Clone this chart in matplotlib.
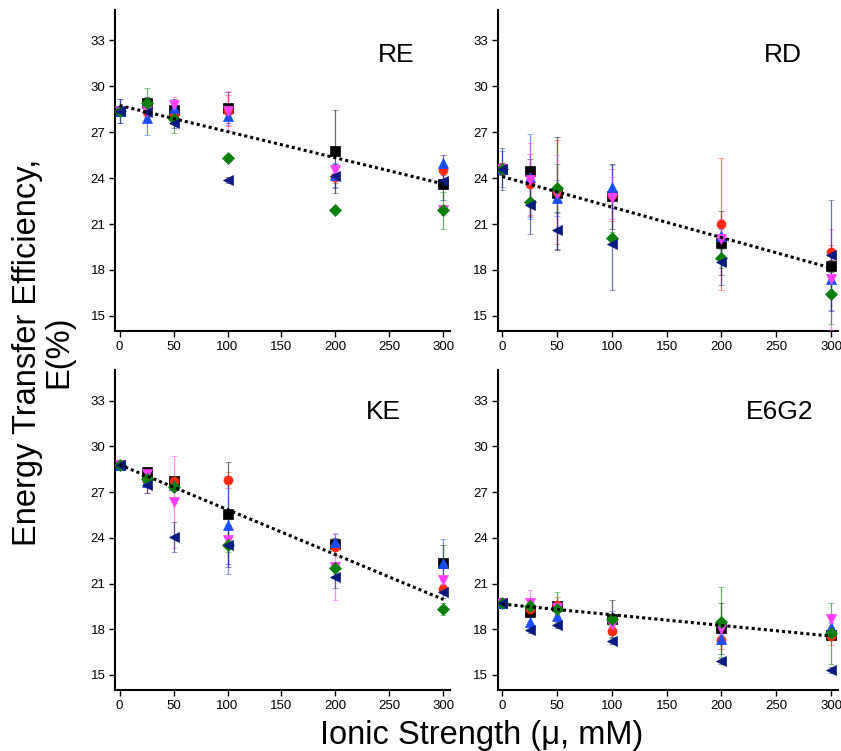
import numpy as np
import matplotlib
matplotlib.use("Agg")
import matplotlib.pyplot as plt

plt.rcParams['font.family'] = ['Liberation Sans', 'DejaVu Sans']

# ionic strength (mM)
ionic = [0, 25, 50, 100, 200, 300]

series_names = ['black', 'red', 'blue', 'magenta', 'green', 'navy']
series_colors = ['#000000', '#ff2a10', '#1a4dff', '#ff40ff', '#0a800a', '#0a1a80']
series_markers = ['s', 'o', '^', 'v', 'D', '<']

panel_labels = ['RE', 'RD', 'KE', 'E6G2']

# efficiency values, E(%)
re_vals = {
    'black':   [28.4, 28.9, 28.45, 28.6, 25.75, 23.6],
    'red':     [28.4, 28.3, 28.1, 28.4, 24.1, 24.5],
    'blue':    [28.4, 27.9, 28.6, 28.05, 24.2, 25.0],
    'magenta': [28.4, 28.4, 28.8, 28.4, 24.5, 21.9],
    'green':   [28.4, 28.9, 27.85, 25.3, 21.95, 21.9],
    'navy':    [28.4, 28.3, 27.6, 23.9, 24.15, 23.8],
}
re_err = {
    'black':   [0.3, 0.4, 0.75, 1.0, 2.7, 1.0],
    'red':     [0.3, 0.5, 0.4, 1.0, 0.4, 1.0],
    'blue':    [0.8, 1.1, 0.4, 0.6, 0.8, 0.5],
    'magenta': [0.3, 0.3, 0.5, 1.3, 0.4, 0.3],
    'green':   [0.2, 1.0, 0.9, 0.2, 0.2, 1.2],
    'navy':    [0.8, 0.3, 0.3, 0.2, 0.8, 0.4],
}

rd_vals = {
    'black':   [24.6, 24.45, 23.0, 22.8, 19.75, 18.25],
    'red':     [24.6, 23.6, 23.1, 22.9, 21.0, 19.15],
    'blue':    [24.6, 24.1, 22.7, 23.45, 20.25, 17.4],
    'magenta': [24.6, 23.9, 23.0, 22.7, 20.0, 17.4],
    'green':   [24.6, 22.45, 23.35, 20.1, 18.75, 16.4],
    'navy':    [24.6, 22.25, 20.6, 19.7, 18.5, 18.95],
}
rd_err = {
    'black':   [0.4, 0.8, 3.7, 2.1, 2.1, 0.4],
    'red':     [0.4, 2.0, 3.4, 1.7, 4.3, 0.5],
    'blue':    [1.2, 2.8, 1.2, 1.4, 0.4, 2.0],
    'magenta': [0.3, 2.4, 2.5, 1.4, 1.3, 3.3],
    'green':   [0.2, 1.0, 1.6, 0.4, 0.6, 1.9],
    'navy':    [1.4, 1.9, 1.2, 3.0, 1.5, 3.6],
}

ke_vals = {
    'black':   [28.8, 28.3, 27.7, 25.55, 23.6, 22.35],
    'red':     [28.8, 27.75, 27.7, 27.8, 23.4, 20.65],
    'blue':    [28.8, 27.65, 27.5, 24.85, 23.75, 22.35],
    'magenta': [28.8, 28.2, 26.35, 23.85, 22.1, 21.2],
    'green':   [28.8, 27.85, 27.35, 23.5, 22.0, 19.35],
    'navy':    [28.8, 27.45, 24.05, 23.55, 21.4, 20.45],
}
ke_err = {
    'black':   [0.2, 0.3, 0.3, 3.45, 0.4, 1.15],
    'red':     [0.2, 0.8, 0.3, 0.5, 0.5, 0.3],
    'blue':    [0.2, 0.3, 0.3, 3.2, 0.5, 1.6],
    'magenta': [0.2, 0.3, 3.0, 0.3, 2.2, 0.3],
    'green':   [0.2, 0.3, 0.3, 0.4, 0.4, 0.4],
    'navy':    [0.2, 0.5, 1.0, 1.3, 0.7, 0.4],
}

e6g2_vals = {
    'black':   [19.7, 19.15, 19.5, 18.7, 18.05, 17.6],
    'red':     [19.7, 19.35, 19.6, 17.9, 17.3, 17.55],
    'blue':    [19.7, 18.5, 18.9, 18.8, 17.35, 18.15],
    'magenta': [19.7, 19.7, 19.4, 18.25, 18.0, 18.7],
    'green':   [19.7, 19.5, 19.35, 18.65, 18.5, 17.75],
    'navy':    [19.7, 17.95, 18.25, 17.2, 15.9, 15.3],
}
e6g2_err = {
    'black':   [0.1, 0.3, 0.3, 1.2, 1.7, 0.3],
    'red':     [0.1, 0.4, 0.5, 0.3, 0.6, 0.6],
    'blue':    [0.1, 0.3, 0.3, 0.4, 0.3, 0.3],
    'magenta': [0.1, 0.9, 0.4, 0.3, 0.3, 0.3],
    'green':   [0.1, 0.4, 1.1, 0.3, 2.3, 2.0],
    'navy':    [0.1, 0.2, 0.2, 0.2, 0.2, 0.2],
}

# dotted linear fit: intercept and slope per panel
fit_intercept = [28.75, 24.1, 28.8, 19.65]
fit_slope = [-0.0171, -0.0199, -0.0295, -0.0070]

panels = [(re_vals, re_err), (rd_vals, rd_err), (ke_vals, ke_err), (e6g2_vals, e6g2_err)]

fig = plt.figure(figsize=(8.41, 7.51), dpi=100)
boxes = [
    [0.137, 0.559, 0.398, 0.428],
    [0.592, 0.559, 0.404, 0.428],
    [0.137, 0.081, 0.398, 0.426],
    [0.592, 0.081, 0.404, 0.426],
]
label_pos = [(0.84, 0.86), (0.84, 0.86), (0.80, 0.87), (0.83, 0.87)]

for i, (vals, errs) in enumerate(panels):
    ax = fig.add_axes(boxes[i])
    for name, col, mk in zip(series_names, series_colors, series_markers):
        eb = ax.errorbar(ionic, vals[name], yerr=errs[name], fmt=mk, color=col,
                         ecolor=col, elinewidth=0.9, capsize=2.5, capthick=0.9,
                         markersize=6.5, markeredgewidth=0.5, zorder=3)
        for lc in eb[2]:
            lc.set_alpha(0.6)
        for cap in eb[1]:
            cap.set_alpha(0.6)
    xs = np.array([0, 300])
    ax.plot(xs, fit_intercept[i] + fit_slope[i] * xs, color='black',
            linestyle=(0, (1, 1)), linewidth=2.2, zorder=4)

    ax.set_xlim(-4, 306)
    ax.set_ylim(14, 35)
    ax.set_xticks([0, 50, 100, 150, 200, 250, 300])
    ax.set_yticks([15, 18, 21, 24, 27, 30, 33])
    ax.spines['top'].set_visible(False)
    ax.spines['right'].set_visible(False)
    ax.spines['left'].set_linewidth(1.5)
    ax.spines['bottom'].set_linewidth(1.5)
    ax.tick_params(direction='out', length=4, width=1, labelsize=9.5, pad=3)
    ax.text(label_pos[i][0], label_pos[i][1], panel_labels[i], transform=ax.transAxes,
            ha='center', va='center', fontsize=19)

fig.text(0.051, 0.531, 'Energy Transfer Efficiency,\nE(%)', rotation=90,
         ha='center', va='center', fontsize=23.5, linespacing=1.0)
fig.text(0.573, 0.021, 'Ionic Strength (\u03bc, mM)', ha='center', va='center', fontsize=23.5)

fig.savefig('out.png', dpi=100)
